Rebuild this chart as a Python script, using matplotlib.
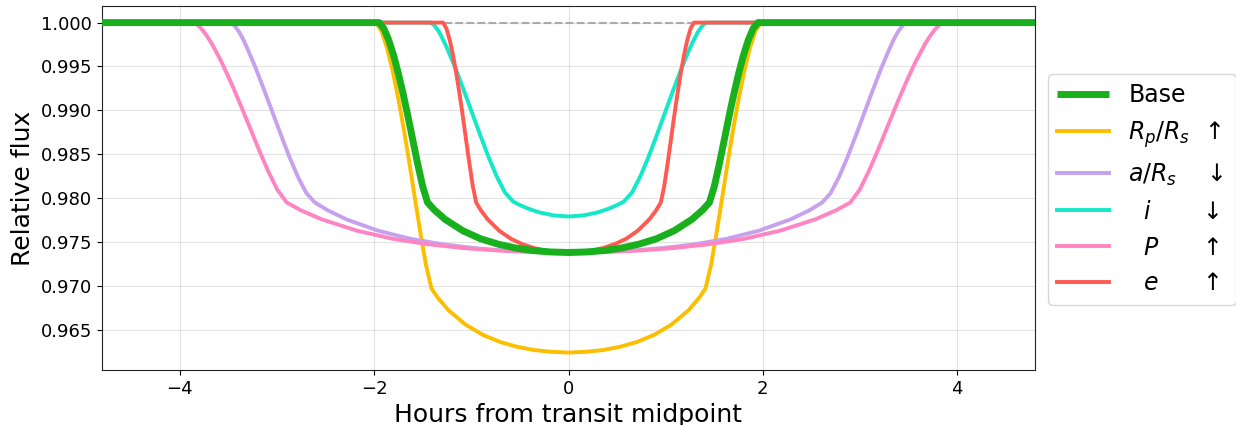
import numpy as np
import matplotlib
matplotlib.use("Agg")
import matplotlib.pyplot as plt

# Half-profiles (hours from midpoint >= 0, relative flux); curves are symmetric
base_t = [0, 0.181, 0.3625, 0.544, 0.725, 0.906, 1.0875, 1.269, 1.3775, 1.45,
          1.50, 1.55, 1.60, 1.65, 1.70, 1.75, 1.80, 1.85, 1.90, 1.95, 4.8]
base_f = [0.97380, 0.97386, 0.97402, 0.97431, 0.97475, 0.97537, 0.97628, 0.97757, 0.97862, 0.97950,
          0.98132, 0.98380, 0.98649, 0.98922, 0.99180, 0.99416, 0.99627, 0.99801, 0.99932, 1.0, 1.0]

rp_t = [0, 0.1763, 0.3525, 0.529, 0.705, 0.881, 1.0575, 1.234, 1.3395, 1.41,
        1.467, 1.524, 1.581, 1.638, 1.695, 1.752, 1.809, 1.866, 1.923, 1.98, 4.8]
rp_f = [0.96240, 0.96248, 0.96268, 0.96305, 0.96361, 0.96441, 0.96557, 0.96721, 0.96857, 0.96970,
        0.97240, 0.97606, 0.98003, 0.98406, 0.98788, 0.99136, 0.99449, 0.99706, 0.99900, 1.0, 1.0]

ars_t = [0, 0.326, 0.6525, 0.979, 1.305, 1.631, 1.9575, 2.284, 2.4795, 2.61,
         2.697, 2.784, 2.871, 2.958, 3.045, 3.132, 3.219, 3.306, 3.35, 3.393, 3.44, 3.48, 4.8]
ars_f = [0.97380, 0.97386, 0.97402, 0.97431, 0.97475, 0.97537, 0.97628, 0.97757, 0.97862, 0.97950,
         0.98057, 0.98241, 0.98467, 0.98717, 0.98975, 0.99233, 0.99483, 0.99709, 0.99815, 0.99900, 0.99970, 1.0, 1.0]

inc_t = [0, 0.15, 0.3, 0.42, 0.5, 0.57,
         0.655, 0.74, 0.825, 0.91, 0.995, 1.08, 1.165, 1.25, 1.295, 1.335, 1.38, 1.42, 4.8]
inc_f = [0.97790, 0.97802, 0.97837, 0.97882, 0.97921, 0.97960,
         0.98066, 0.98250, 0.98474, 0.98723, 0.98980, 0.99237, 0.99486, 0.99710, 0.99815, 0.99900, 0.99968, 1.0, 1.0]

per_t = [0, 0.3625, 0.725, 1.0875, 1.45, 1.8125, 2.175, 2.5375, 2.755, 2.90,
         2.996, 3.092, 3.188, 3.284, 3.38, 3.476, 3.572, 3.668, 3.716, 3.764, 3.815, 3.86, 4.8]
per_f = [0.97380, 0.97386, 0.97402, 0.97431, 0.97475, 0.97537, 0.97628, 0.97757, 0.97862, 0.97950,
         0.98095, 0.98311, 0.98558, 0.98819, 0.99077, 0.99325, 0.99555, 0.99755, 0.99840, 0.99913, 0.99972, 1.0, 1.0]

ecc_t = [0, 0.119, 0.2375, 0.356, 0.475, 0.594, 0.7125, 0.831, 0.9025, 0.95,
         0.984, 1.018, 1.052, 1.086, 1.12, 1.154, 1.188, 1.222, 1.256, 1.29, 4.8]
ecc_f = [0.97380, 0.97386, 0.97402, 0.97431, 0.97475, 0.97537, 0.97628, 0.97757, 0.97862, 0.97950,
         0.98132, 0.98380, 0.98649, 0.98922, 0.99180, 0.99416, 0.99627, 0.99801, 0.99932, 1.0, 1.0]

labels = ["Base", r"$R_p/R_s$  ↑ ", r"$a/R_s$    ↓", r"  $i$       ↓", r"  $P$      ↑", r"  $e$      ↑"]
colors = ["#18b01c", "#fbbf00", "#c6a2ee", "#14e8c8", "#ff85c2", "#ff5a52"]


def mirror(t, f):
    t = np.asarray(t, float)
    f = np.asarray(f, float)
    return np.concatenate([-t[:0:-1], t]), np.concatenate([f[:0:-1], f])


fig = plt.figure(figsize=(12.36, 4.25), dpi=100)
ax = fig.add_axes([102 / 1236, 1 - 370 / 425, (1035 - 102) / 1236, (370 - 6) / 425])

ax.axhline(1.0, color="#aaaaaa", ls="--", lw=1.5, zorder=1)

series = [(base_t, base_f), (rp_t, rp_f), (ars_t, ars_f), (inc_t, inc_f), (per_t, per_f), (ecc_t, ecc_f)]
handles = []
for i, ((t, f), lab, c) in enumerate(zip(series, labels, colors)):
    tt, ff = mirror(t, f)
    if i == 0:
        h, = ax.plot(tt, ff, color=c, lw=5, label=lab, zorder=5, solid_capstyle="butt")
    else:
        h, = ax.plot(tt, ff, color=c, lw=2.8, label=lab, zorder=3)
    handles.append(h)

ax.set_xlim(-4.8, 4.8)
ax.set_ylim(0.96041, 1.00189)
ax.set_xticks([-4, -2, 0, 2, 4])
ax.set_yticks([0.965, 0.970, 0.975, 0.980, 0.985, 0.990, 0.995, 1.000])
ax.yaxis.set_major_formatter(matplotlib.ticker.FormatStrFormatter("%.3f"))
ax.tick_params(labelsize=13)
ax.grid(True, color="#d0d0d0", alpha=0.6, lw=0.8)
ax.set_axisbelow(True)
ax.set_xlabel("Hours from transit midpoint", fontsize=18)
ax.set_ylabel("Relative flux", fontsize=18)
for s in ax.spines.values():
    s.set_color("#222222")

fig.legend(handles=handles, loc="upper left", bbox_to_anchor=(1048 / 1236, 1 - 74 / 425),
           fontsize=17, handlelength=2.2, labelspacing=0.5, borderaxespad=0, framealpha=0.8)

fig.savefig("out.png", dpi=100)
